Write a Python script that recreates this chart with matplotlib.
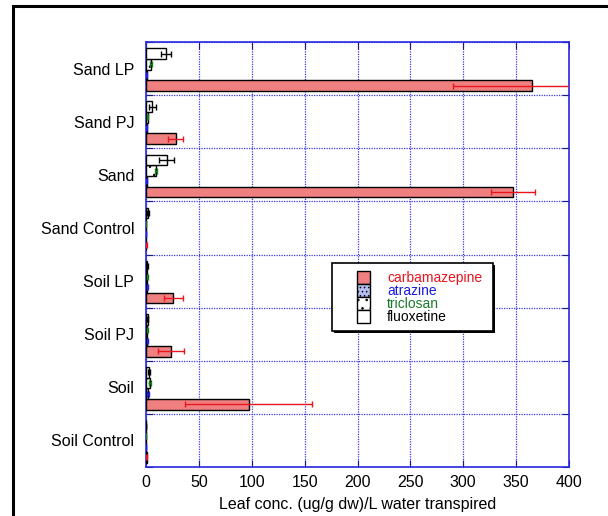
import matplotlib
matplotlib.use("Agg")
import matplotlib.pyplot as plt
from matplotlib.patches import Rectangle

categories = ["Soil Control", "Soil", "Soil PJ", "Soil LP", "Sand Control", "Sand", "Sand PJ", "Sand LP"]
series = ["carbamazepine", "atrazine", "triclosan", "fluoxetine"]
carbamazepine = [0.5, 97, 23.5, 26, 0.3, 347, 28, 365]
carbamazepine_err = [0.3, 60, 12, 9, 0.2, 21, 7, 75]
atrazine = [0.2, 2, 1, 1, 0.3, 0.5, 0.5, 0.5]
atrazine_err = [0.1, 1, 0.5, 0.5, 0.1, 0.3, 0.3, 0.3]
triclosan = [0.2, 4, 1, 1, 0.3, 9.5, 1.5, 5]
triclosan_err = [0.1, 1, 0.5, 0.5, 0.1, 1, 0.5, 1]
fluoxetine = [0.2, 3, 1.5, 1, 1.5, 19.5, 6, 19]
fluoxetine_err = [0.1, 1, 0.5, 0.5, 1, 7, 3, 5]

values = [carbamazepine, atrazine, triclosan, fluoxetine]
errors = [carbamazepine_err, atrazine_err, triclosan_err, fluoxetine_err]
fills = ["#f08080", "#b4bef0", "#ffffff", "#ffffff"]
hatches = [None, "....", ". .", None]
errcolors = ["#e8141e", "#2020e0", "#1a7a1a", "#000000"]
textcolors = ["#e8141e", "#1a1ae6", "#1a7a2a", "#000000"]
offsets = [0.18, 0.38, 0.58, 0.78]

plt.rcParams["font.family"] = ["Liberation Sans", "DejaVu Sans"]
plt.rcParams["hatch.linewidth"] = 0.6

W, H = 608, 516
fig = plt.figure(figsize=(W / 100, H / 100), dpi=100)
ax = fig.add_axes([146 / W, 1 - 467 / H, 423 / W, 425 / H])


def fx(px):
    return px / W


def fy(py):
    return 1 - py / H


fig.patches.append(Rectangle((fx(13), -0.1), 0.99, fy(6) + 0.1, transform=fig.transFigure,
                             fill=False, edgecolor="black", linewidth=2.2, zorder=0))

for s in range(4):
    ys = [i + offsets[s] for i in range(len(categories))]
    ax.barh(ys, values[s], height=0.2, color=fills[s], edgecolor="black", linewidth=1.0,
            hatch=hatches[s], zorder=3)
    ax.errorbar(values[s], ys, xerr=errors[s], fmt="none", ecolor=errcolors[s],
                elinewidth=1.0, capsize=2.5, capthick=1.0, zorder=4)

ax.set_xlim(0, 400)
ax.set_ylim(0, 8)
ax.set_xticks(range(0, 401, 50))
ax.set_yticks(range(0, 9))
ax.set_yticklabels([])
ax.set_yticks([i + 0.5 for i in range(8)], minor=True)
ax.set_yticklabels(categories, minor=True)
ax.tick_params(axis="y", which="minor", length=0, pad=8.5, labelsize=11.5)
ax.tick_params(axis="y", which="major", direction="in", length=5, color="#1a1a80", right=True, left=True)
ax.tick_params(axis="x", direction="in", length=5, color="#1a1a80", top=True, labelsize=11.5, pad=6)
ax.grid(True, which="major", color="#3838e8", linestyle=(0, (1, 1)), linewidth=0.9, zorder=0)
for sp in ax.spines.values():
    sp.set_color("#2828e0")
    sp.set_linewidth(1.2)
ax.set_xlabel("Leaf conc. (ug/g dw)/L water transpired", fontsize=11.5, labelpad=5)

# legend drawn manually (box with drop shadow, stacked swatches)
bx0, bx1, by0, by1 = 332, 493, 263, 331
fig.patches.append(Rectangle((fx(bx0 + 2), fy(by1 + 2)), fx(bx1) - fx(bx0), fy(by0) - fy(by1),
                             transform=fig.transFigure, facecolor="black", edgecolor="black",
                             linewidth=0, zorder=5))
fig.patches.append(Rectangle((fx(bx0), fy(by1)), fx(bx1) - fx(bx0), fy(by0) - fy(by1),
                             transform=fig.transFigure, facecolor="white", edgecolor="black",
                             linewidth=1.2, zorder=6))
sw_x0, sw_w, sw_y0, sw_h = 357, 13, 271, 13
for s in range(4):
    top = sw_y0 + s * sw_h
    fig.patches.append(Rectangle((fx(sw_x0), fy(top + sw_h)), fx(sw_x0 + sw_w) - fx(sw_x0),
                                 fy(top) - fy(top + sw_h), transform=fig.transFigure,
                                 facecolor=fills[s], edgecolor="black", linewidth=1.0,
                                 hatch=hatches[s], zorder=7))
    fig.text(fx(387), fy(top + sw_h / 2 + 0.5), series[s], color=textcolors[s], fontsize=10,
             ha="left", va="center", zorder=8)

fig.savefig("out.png", dpi=100)
